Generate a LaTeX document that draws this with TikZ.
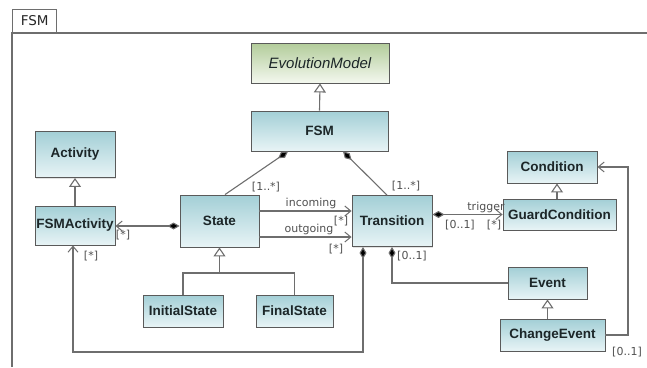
\documentclass[tikz,border=0pt]{standalone}
\usepackage{fontspec}
\setmainfont{Liberation Sans}
\newfontfamily\lblfont{DejaVu Sans}
\usetikzlibrary{arrows.meta,shadows}
\definecolor{clsTop}{HTML}{A3CFD6}
\definecolor{clsBot}{HTML}{E8F4F6}
\definecolor{absTop}{HTML}{B2CC9A}
\definecolor{absBot}{HTML}{F4F8EF}
\definecolor{edge}{HTML}{6E6E6E}
\definecolor{rim}{HTML}{5A5A5A}
\definecolor{txt}{HTML}{1C2628}
\definecolor{lbl}{HTML}{505050}
\begin{document}
\begin{tikzpicture}[x=1pt,y=-1pt,
  box/.style={draw=rim, line width=0.9pt, inner sep=0pt, text=txt,
    drop shadow={opacity=0.22, shadow xshift=1.3pt, shadow yshift=-1.3pt}},
  cls/.style={box, top color=clsTop, bottom color=clsBot,
    font=\fontsize{13.5}{15}\selectfont\bfseries},
  abs/.style={box, top color=absTop, bottom color=absBot,
    font=\fontsize{15}{17}\selectfont\itshape},
  conn/.style={draw=edge, line width=1.1pt},
  compo/.style={{Diamond[length=12pt,width=7pt,fill=black]}-},
  navi/.style={-{Straight Barb[length=6pt,width=10pt,line width=1pt]}},
  compnav/.style={{Diamond[length=12pt,width=7pt,fill=black]}-{Straight Barb[length=6pt,width=10pt,line width=1pt]}},
  inherit/.style={-{Triangle[open,length=9pt,width=12pt,fill=white]}},
  lbl/.style={font=\lblfont\fontsize{11}{12}\selectfont, text=lbl, inner sep=0pt},
  framed/.style={draw=edge, line width=1.3pt}
]
\useasboundingbox (0,0) rectangle (647,367);

% package frame and its name tab
\draw[framed] (12,367) -- (12,33) -- (647,33);
\node[framed, anchor=south west, minimum width=44pt, minimum height=23pt, inner sep=0pt,
  font=\lblfont\fontsize{13.5}{15}\selectfont, text=black!85] (tab) at (12,33) {FSM};

% classes
\node[abs, minimum width=138pt, minimum height=40pt] (em) at (320,63) {EvolutionModel};
\node[cls, minimum width=137pt, minimum height=40pt] (fsm) at (319.5,131) {FSM};
\node[cls, minimum width=80pt, minimum height=46pt] (act) at (75,154.5) {Activity};
\node[cls, minimum width=80pt, minimum height=39pt] (fsmact) at (75,225.5) {FSMActivity};
\node[cls, minimum width=79pt, minimum height=52pt] (state) at (219.5,221) {State};
\node[cls, minimum width=80pt, minimum height=51pt] (trans) at (392,221) {Transition};
\node[cls, minimum width=90pt, minimum height=32pt] (cond) at (552,167) {Condition};
\node[cls, minimum width=113pt, minimum height=31pt] (guard) at (559.5,214.5) {GuardCondition};
\node[cls, minimum width=79pt, minimum height=32pt] (event) at (547.5,283) {Event};
\node[cls, minimum width=105pt, minimum height=32pt] (chev) at (552.5,335) {ChangeEvent};
\node[cls, minimum width=80pt, minimum height=32pt] (init) at (183,311) {InitialState};
\node[cls, minimum width=77pt, minimum height=32pt] (fin) at (294.5,311) {FinalState};

% generalizations
\draw[conn, inherit] (fsm.north) -- (em.south);
\draw[conn, inherit] (fsmact.north) -- (act.south);
\draw[conn, inherit] ([xshift=-2.5pt]guard.north) -- ([xshift=-2.5pt]guard.north |- cond.south);
\draw[conn, inherit] (event.south |- chev.north) -- (event.south);
\coordinate (jn) at (219.5,273);
\draw[conn] (init.north) -- (init.north |- jn) -- (fin.north |- jn) -- (fin.north);
\draw[conn, inherit] (jn) -- (state.south);

% compositions owned by FSM
\draw[conn, compo] ([xshift=-31.5pt]fsm.south) -- ([xshift=5.5pt]state.north);
\draw[conn, compo] ([xshift=23.5pt]fsm.south) -- ([xshift=-5pt]trans.north);
\node[lbl] (m1) at (266,187) {[1..*]};
\node[lbl] (m2) at (406,186) {[1..*]};

% State to Transition
\draw[conn, navi] ([yshift=10pt]state.east) -- ([yshift=10pt]state.east -| trans.west);
\draw[conn, navi] ([yshift=-16pt]state.east) -- ([yshift=-16pt]state.east -| trans.west);
\node[lbl] (inc) at (311,203.5) {incoming};
\node[lbl] (m3) at (341,221) {[*]};
\node[lbl] (out) at (309,229.5) {outgoing};
\node[lbl] (m4) at (336,249) {[*]};

% State to FSMActivity
\draw[conn, compnav] ([yshift=-5pt]state.west) -- ([yshift=-5pt]state.west -| fsmact.east);
\node[lbl] (m5) at (123,235) {[*]};

% Transition to GuardCondition
\draw[conn, compnav] ([yshift=6.5pt]trans.east) -- ([yshift=6.5pt]trans.east -| guard.west);
\node[lbl] (trg) at (486,207) {trigger};
\node[lbl] (m6) at (460,225) {[0..1]};
\node[lbl] (m7) at (494,225) {[*]};

% Transition to Event
\draw[conn, compo] (trans.south) |- (event.west);
\node[lbl] (m8) at (412,256) {[0..1]};

% Transition to FSMActivity
\coordinate (lb) at (363,352);
\draw[conn, compnav] ([xshift=-29pt]trans.south) -- (lb) -| ([xshift=-2pt]fsmact.south);
\node[lbl] (m9) at (91,256) {[*]};

% ChangeEvent to Condition
\coordinate (rt) at (628,335);
\draw[conn, navi] (chev.east) -- (rt) |- (cond.east);
\node[lbl] (m10) at (627,352) {[0..1]};
\end{tikzpicture}
\end{document}
